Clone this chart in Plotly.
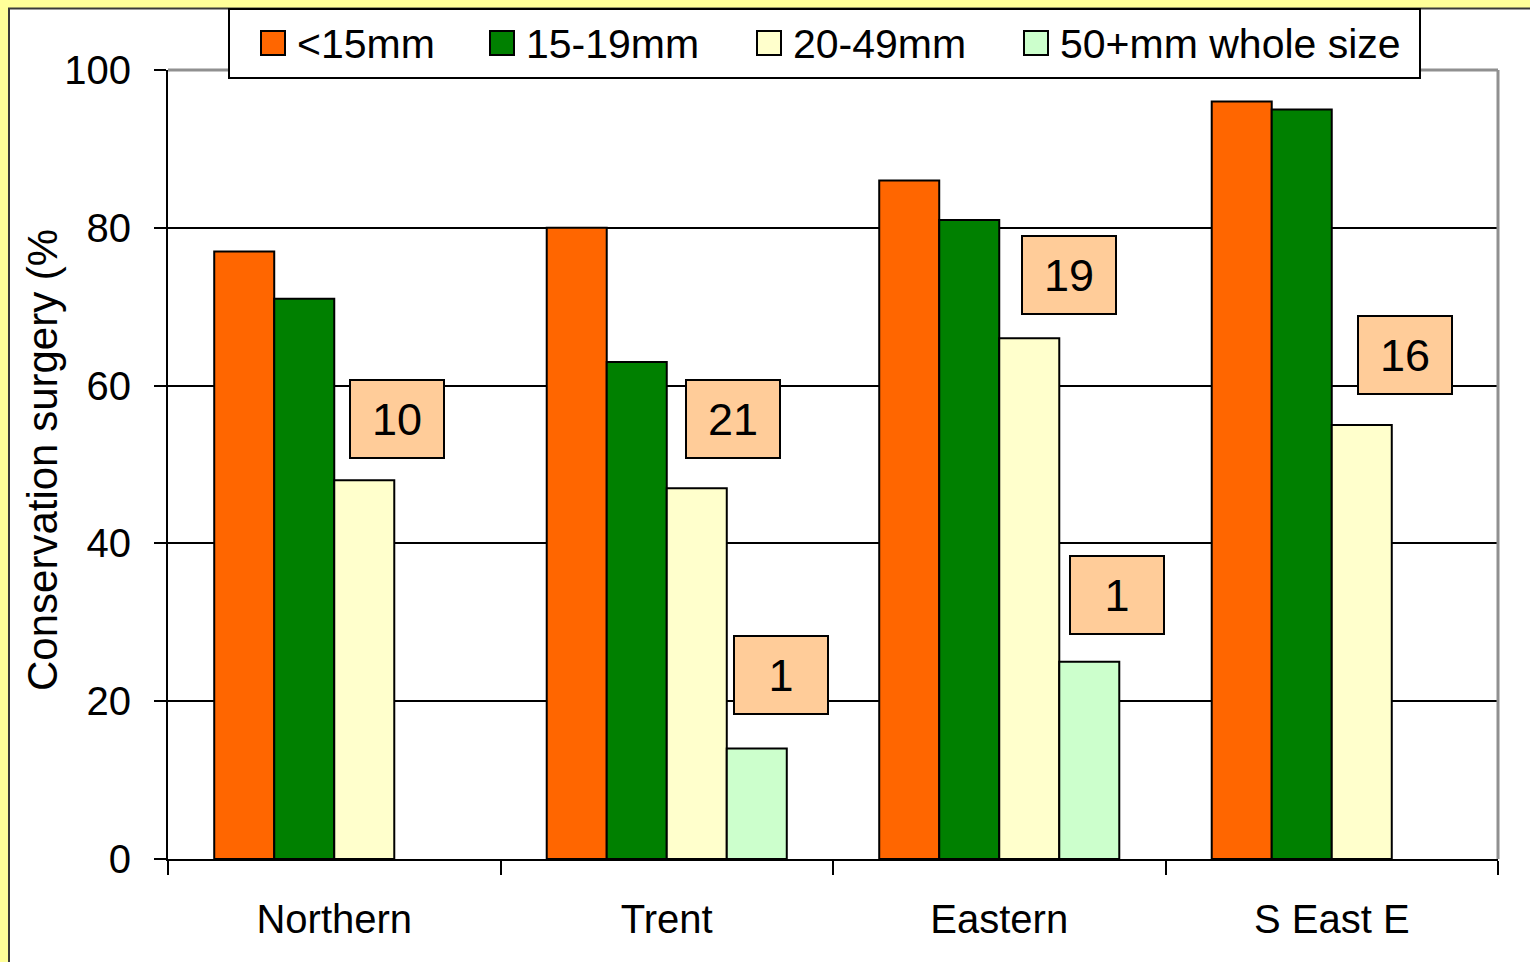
import plotly.graph_objects as go

categories = ["Northern", "Trent", "Eastern", "S East E"]
series_names = ["<15mm", "15-19mm", "20-49mm", "50+mm whole size"]
vals_lt15 = [77, 80, 86, 96]
vals_15_19 = [71, 63, 81, 95]
vals_20_49 = [48, 47, 66, 55]
vals_50plus = [None, 14, 25, None]
series_colors = ["#FF6600", "#008000", "#FFFFCC", "#CCFFCC"]

box_labels = ["10", "21", "1", "19", "1", "16"]
box_x = [0.1887, 1.1992, 1.3436, 2.2098, 2.3541, 3.2203]
box_y = [55.8, 55.8, 23.3, 74.0, 33.5, 63.9]

ytick_vals = [0, 20, 40, 60, 80, 100]

W, H = 1530, 962
L, R, T, B = 168, 1498, 70, 859
FONT = "Liberation Sans, Arial, sans-serif"


def px(x):
    return (x - L) / (R - L)


def py(y):
    return (B - y) / (B - T)


fig = go.Figure()
for name, vals, col in zip(series_names, [vals_lt15, vals_15_19, vals_20_49, vals_50plus], series_colors):
    fig.add_trace(go.Bar(
        x=categories, y=vals, name=name,
        marker=dict(color=col, line=dict(color="black", width=2)),
        showlegend=False,
    ))

shapes = []
# page white area with dark border
shapes.append(dict(type="rect", xref="paper", yref="paper", layer="below",
                   x0=px(9), x1=px(1560), y0=py(990), y1=py(8.5),
                   fillcolor="white", line=dict(color="#3a3a3a", width=2)))
# grey plot-area border (top and right)
shapes.append(dict(type="line", xref="paper", yref="paper", x0=0, x1=1, y0=1, y1=1,
                   line=dict(color="#909090", width=3)))
shapes.append(dict(type="line", xref="paper", yref="paper", x0=1, x1=1, y0=0, y1=1,
                   line=dict(color="#909090", width=3)))
# legend box
shapes.append(dict(type="rect", xref="paper", yref="paper",
                   x0=px(229), x1=px(1420), y0=py(78), y1=py(9),
                   fillcolor="white", line=dict(color="black", width=2)))

annotations = []
legend_marker_x = [261, 490, 757, 1024]
for name, col, mx in zip(series_names, series_colors, legend_marker_x):
    shapes.append(dict(type="rect", xref="paper", yref="paper",
                       x0=px(mx), x1=px(mx + 24), y0=py(55), y1=py(31),
                       fillcolor=col, line=dict(color="black", width=2)))
    annotations.append(dict(text=name, xref="paper", yref="paper",
                            x=px(mx + 34), y=py(44), xanchor="left", yanchor="middle",
                            showarrow=False, font=dict(size=41, color="black", family=FONT)))

for t, bx, by in zip(box_labels, box_x, box_y):
    annotations.append(dict(text=t, x=bx, y=by, xref="x", yref="y", showarrow=False,
                            xanchor="center", yanchor="middle",
                            width=92, height=76, borderpad=0, borderwidth=2,
                            bordercolor="black", bgcolor="#FFCC99",
                            font=dict(size=45, color="black", family=FONT)))

annotations.append(dict(text="Conservation surgery (%", xref="paper", yref="paper",
                        x=px(42), y=py(460), textangle=-90, showarrow=False,
                        xanchor="center", yanchor="middle",
                        font=dict(size=42, color="black", family=FONT)))

fig.update_layout(
    width=W, height=H,
    margin=dict(l=L, r=W - R, t=T, b=H - B, autoexpand=False),
    paper_bgcolor="#FFFF99",
    plot_bgcolor="white",
    barmode="group",
    bargap=0.278,
    bargroupgap=0,
    showlegend=False,
    shapes=shapes,
    annotations=annotations,
    font=dict(family=FONT, size=40, color="black"),
)
fig.update_xaxes(
    type="category", showgrid=False, showline=True, linecolor="black", linewidth=2,
    ticks="outside", tickson="boundaries", ticklen=14, tickwidth=2, tickcolor="black",
    tickfont=dict(size=40, color="black", family=FONT), ticklabelstandoff=24,
    automargin=False,
)
fig.update_yaxes(
    range=[0, 100], tickvals=ytick_vals, showgrid=True, gridcolor="black", gridwidth=2,
    showline=True, linecolor="black", linewidth=2, zeroline=False,
    ticks="outside", ticklen=12, tickwidth=2, tickcolor="black",
    tickfont=dict(size=40, color="black", family=FONT), ticklabelstandoff=15,
    automargin=False,
)

fig.write_html("out.html", config={"displayModeBar": False},
               post_script="document.body.style.margin='0px';")
